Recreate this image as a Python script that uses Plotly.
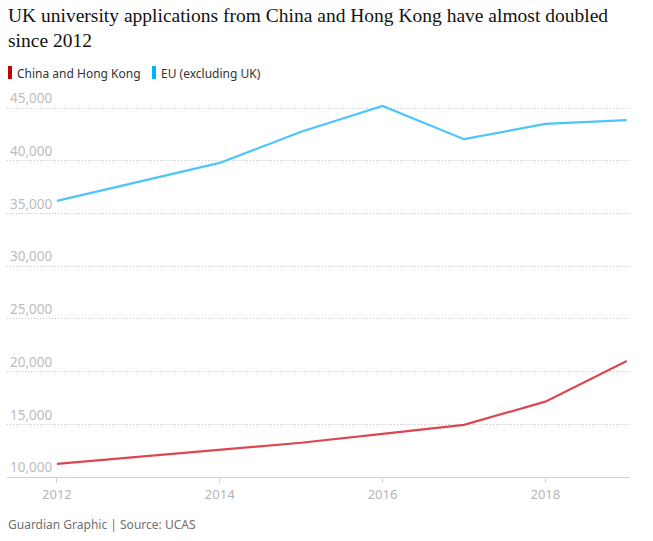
import plotly.graph_objects as go

years = [2012, 2013, 2014, 2015, 2016, 2017, 2018, 2019]
china_hk = [11250, 11900, 12600, 13250, 14100, 14950, 17150, 21000]
eu = [36200, 38000, 39800, 42750, 45200, 42050, 43500, 43850]

x_ticks = [2012, 2014, 2016, 2018]
y_ticks = [10000, 15000, 20000, 25000, 30000, 35000, 40000, 45000]

red = "#dc4650"
blue = "#4cc6f8"
W, H = 653, 541
L, R, T, B = 7, 23, 78, 64
# 5000 units ~ 52.7 px
y_top = 10000 + (H - T - B) * 5000 / 52.7

fig = go.Figure()
fig.add_trace(go.Scatter(x=years, y=china_hk, mode="lines", name="China and Hong Kong",
                         line=dict(color=red, width=2.2), cliponaxis=False))
fig.add_trace(go.Scatter(x=years, y=eu, mode="lines", name="EU (excluding UK)",
                         line=dict(color=blue, width=2.2), cliponaxis=False))

sans = "Noto Sans"

fig.update_layout(
    width=W, height=H,
    margin=dict(l=L, r=R, t=T, b=B),
    paper_bgcolor="white", plot_bgcolor="white",
    showlegend=False,
    xaxis=dict(
        range=[2011.387, 2019.04],
        tickvals=x_ticks, ticktext=[str(v) for v in x_ticks],
        showgrid=False, zeroline=False,
        showline=True, linecolor="#d0d0d0", linewidth=1,
        ticks="outside", ticklen=5, tickcolor="#d0d0d0",
        tickfont=dict(family=sans, size=13, color="#b5b5b5"),
    ),
    yaxis=dict(
        range=[10000, y_top],
        tickvals=y_ticks, tickformat=",",
        showgrid=True, gridcolor="#c4c4c4", griddash="1px,2px", gridwidth=1,
        zeroline=False, showline=False, ticks="",
        ticklabelposition="inside top",
        tickfont=dict(family=sans, size=13.5, color="#bdbdbd"),
    ),
)

def px_x(X):
    return (X - L) / (W - L - R)

def px_y(Y):
    return (H - B - Y) / (H - T - B)

fig.add_annotation(
    text="UK university applications from China and Hong Kong have almost doubled<br>since 2012",
    xref="paper", yref="paper", x=px_x(6), y=px_y(3), xanchor="left", yanchor="top",
    align="left", showarrow=False,
    font=dict(family="Liberation Serif", size=19.5, color="#121212"))

legend_items = [("China and Hong Kong", "#c70000", 8), ("EU (excluding UK)", "#00b2ff", 152)]
for label, col, x0 in legend_items:
    fig.add_shape(type="rect", xref="paper", yref="paper",
                  x0=px_x(x0), x1=px_x(x0 + 4), y0=px_y(79), y1=px_y(66),
                  fillcolor=col, line=dict(width=0))
    fig.add_annotation(text=label, xref="paper", yref="paper",
                       x=px_x(x0 + 7), y=px_y(73), xanchor="left", yanchor="middle",
                       showarrow=False, font=dict(family=sans, size=12, color="#333333"))

fig.add_annotation(text="Guardian Graphic | Source: UCAS", xref="paper", yref="paper",
                   x=px_x(6), y=px_y(524), xanchor="left", yanchor="middle",
                   showarrow=False, font=dict(family=sans, size=12, color="#707070"))

fig.write_html("out.html", config={"displayModeBar": False},
               post_script="document.body.style.margin='0';document.body.style.padding='0';")
